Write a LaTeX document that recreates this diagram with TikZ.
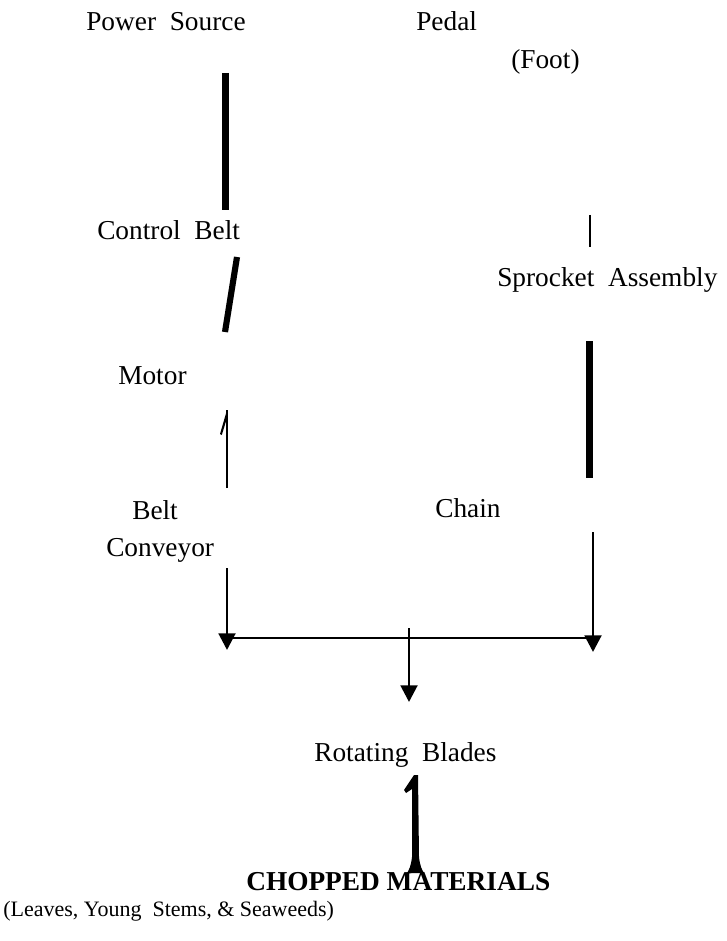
\documentclass[tikz,border=0pt]{standalone}
\usepackage{fontspec}
\setmainfont{Liberation Serif}
\usetikzlibrary{arrows.meta}
\begin{document}
\begin{tikzpicture}[x=0.75pt,y=-0.75pt,
  lbl/.style={font=\fontsize{20.5}{24}\selectfont, inner sep=0pt, anchor=base west},
  small/.style={font=\fontsize{16.5}{20}\selectfont, inner sep=0pt, anchor=base west},
  boldlbl/.style={font=\fontsize{20.5}{24}\selectfont\bfseries, inner sep=0pt, anchor=base west},
  thickbar/.style={line width=5.25pt},
  slimbar/.style={line width=2.2pt},
  flow/.style={line width=2.2pt},
  flowarrow/.style={line width=2.2pt, -{Triangle[length=12.5pt,width=12.5pt]}},
  glyph/.style={fill=black, draw=none}
]
\useasboundingbox (0,0) rectangle (727,941);

% labels
\node[lbl] (power) at (86,31) {Power\ \ Source};
\node[lbl] (pedal) at (416,31) {Pedal};
\node[lbl] (foot) at (511,69) {(Foot)};
\node[lbl] (cbelt) at (97,239) {Control\ \ Belt};
\node[lbl] (sprocket) at (497,286) {Sprocket\ \ Assembly};
\node[lbl] (motor) at (118,384) {Motor};
\node[lbl] (belt) at (132,519) {Belt};
\node[lbl] (conveyor) at (106,556) {Conveyor};
\node[lbl] (chain) at (435,517) {Chain};
\node[lbl] (blades) at (314,761) {Rotating\ \ Blades};
\node[boldlbl] (chopped) at (246,890) {CHOPPED MATERIALS};
\node[small] (leaves) at (3,916) {(Leaves, Young\ \ Stems, \& Seaweeds)};

% coordinates of the free line ends
\coordinate (b1t) at (225,73);
\coordinate (b1b) at (225,210);
\coordinate (s1t) at (237,257);
\coordinate (s1b) at (225,332);
\coordinate (r1t) at (590,215);
\coordinate (r1b) at (590,247);
\coordinate (r2t) at (589.5,341);
\coordinate (r2b) at (589.5,478);
\coordinate (m1t) at (227,410);
\coordinate (m1b) at (227,488);
\coordinate (la) at (227,568);
\coordinate (lt) at (227,650);
\coordinate (ra) at (593,532);
\coordinate (rt) at (593,652);
\coordinate (hl) at (227,638);
\coordinate (hr) at (593,638);
\coordinate (ma) at (409,628);
\coordinate (mt) at (409,702);

% bars
\draw[thickbar] (b1t) -- (b1b);
\draw[thickbar, line width=4.6pt] (s1t) -- (s1b);
\draw[slimbar] (r1t) -- (r1b);
\draw[thickbar] (r2t) -- (r2b);

% motor harpoon
\draw[flow, line width=1.9pt] (m1b) -- (m1t);
\fill[glyph] (m1t) -- ++(-7,24) -- ++(1.8,1) -- ++(5.2,-17) -- cycle;

% joining arrows
\draw[flowarrow] (la) -- (lt);
\draw[flowarrow] (ra) -- (rt);
\draw[flow] (hl) -- (hr);
\draw[flowarrow] (ma) -- (mt);

% large harpoon glyph under Rotating Blades
\fill[glyph] (418,775) -- (419,857) .. controls (420,866) and (422,870) .. (424,873)
  -- (407,873) .. controls (409,870) and (411,866) .. (412,857)
  -- (412,789) -- (406,793) -- (404,790) -- (414,775) -- cycle;
\end{tikzpicture}
\end{document}
